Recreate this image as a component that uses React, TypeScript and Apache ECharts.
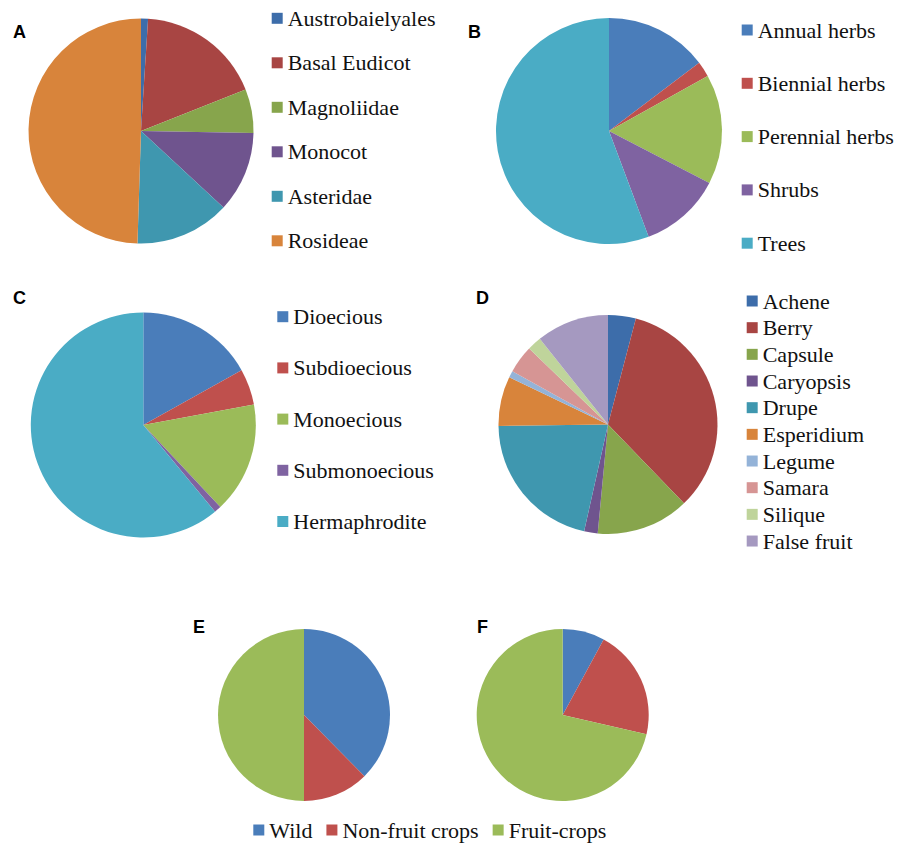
import React, { useEffect, useRef } from "react";
import * as echarts from "echarts";

// Panel A: clades
const cladeNames = ["Austrobaielyales", "Basal Eudicot", "Magnoliidae", "Monocot", "Asteridae", "Rosideae"];
const cladeValues = [1, 18, 6.3, 11.6, 13.6, 49.5];
const cladeColors = ["#3D6DAA", "#A84543", "#87A54C", "#6F548E", "#3F97AF", "#D8843B"];

// Panel B: life form
const habitNames = ["Annual herbs", "Biennial herbs", "Perennial herbs", "Shrubs", "Trees"];
const habitValues = [14.7, 2.2, 15.7, 11.7, 55.7];
const habitColors = ["#4A7DBA", "#BF504D", "#9BBB59", "#7F63A1", "#4AACC5"];

// Panel C: sexual system
const sexNames = ["Dioecious", "Subdioecious", "Monoecious", "Submonoecious", "Hermaphrodite"];
const sexValues = [16.9, 5.2, 15.9, 1, 61];
const sexColors = ["#4A7DBA", "#BF504D", "#9BBB59", "#7F63A1", "#4AACC5"];

// Panel D: fruit type
const fruitNames = ["Achene", "Berry", "Capsule", "Caryopsis", "Drupe", "Esperidium", "Legume", "Samara", "Silique", "False fruit"];
const fruitValues = [4.1, 33.7, 13.7, 2, 21.3, 7.3, 1, 4.1, 2.1, 10.7];
const fruitColors = ["#3D6DAA", "#A84543", "#87A54C", "#6F548E", "#3F97AF", "#D8843B", "#94B3D8", "#D69594", "#BFD49B", "#A599C0"];

// Panels E and F: use
const useNames = ["Wild", "Non-fruit crops", "Fruit-crops"];
const useValuesE = [37.6, 12.4, 50];
const useValuesF = [7.9, 20.7, 71.4];
const useColors = ["#4A7DBA", "#BF504D", "#9BBB59"];

const panelLabels = ["A", "B", "C", "D", "E", "F"];

const serif = "Liberation Serif";
const sans = "Liberation Sans";

function makeData(names: string[], values: number[], colors: string[]) {
  return names.map((n, i) => ({ name: n, value: values[i], itemStyle: { color: colors[i] } }));
}

function pie(id: string, center: [number, number], r: number, data: any[]) {
  return {
    type: "pie",
    id,
    center,
    radius: r,
    startAngle: 90,
    clockwise: true,
    label: { show: false },
    labelLine: { show: false },
    emphasis: { disabled: true },
    itemStyle: { borderWidth: 0 },
    data,
  };
}

function legend(names: string[], left: number, top: number, gap: number, orient: string) {
  return {
    data: names,
    left,
    top,
    orient,
    padding: 0,
    itemGap: gap,
    itemWidth: 11,
    itemHeight: 11,
    icon: "rect",
    selectedMode: false,
    textStyle: { fontFamily: serif, fontSize: 22, lineHeight: 22, color: "#111" },
  };
}

export default function App() {
  const ref = useRef<HTMLDivElement>(null);
  useEffect(() => {
    if (!ref.current) return;
    const chart = echarts.init(ref.current, undefined, { renderer: "svg" });
    const labelPos: [number, number][] = [
      [13, 31.5],
      [468, 31.5],
      [13, 298],
      [476, 297.5],
      [193, 626.5],
      [477, 626.5],
    ];
    chart.setOption({
      animation: false,
      backgroundColor: "#fff",
      legend: [
        legend(cladeNames, 271.7, 7.3, 22.5, "vertical"),
        legend(habitNames, 741.7, 19, 31.3, "vertical"),
        legend(sexNames, 277.3, 305.7, 29.2, "vertical"),
        legend(fruitNames, 746.7, 290, 4.67, "vertical"),
        legend(useNames, 253.3, 819, 14, "horizontal"),
      ],
      series: [
        pie("A", [141, 131], 112.5, makeData(cladeNames, cladeValues, cladeColors)),
        pie("B", [609, 131], 113, makeData(habitNames, habitValues, habitColors)),
        pie("C", [143.3, 425], 112.5, makeData(sexNames, sexValues, sexColors)),
        pie("D", [608, 424.5], 109.5, makeData(fruitNames, fruitValues, fruitColors)),
        pie("E", [304, 715], 86, makeData(useNames, useValuesE, useColors)),
        pie("F", [562.7, 715], 86, makeData(useNames, useValuesF, useColors)),
      ],
      graphic: panelLabels.map((t, i) => ({
        type: "text",
        x: labelPos[i][0],
        y: labelPos[i][1],
        style: {
          text: t,
          fontFamily: sans,
          fontWeight: "bold",
          fontSize: 18,
          fill: "#000",
          textAlign: "left",
          textVerticalAlign: "middle",
          verticalAlign: "middle",
        },
      })),
    });
    return () => chart.dispose();
  }, []);
  return (
    <div
      ref={ref}
      style={{ position: "fixed", left: 0, top: 0, width: 900, height: 847 }}
    />
  );
}
